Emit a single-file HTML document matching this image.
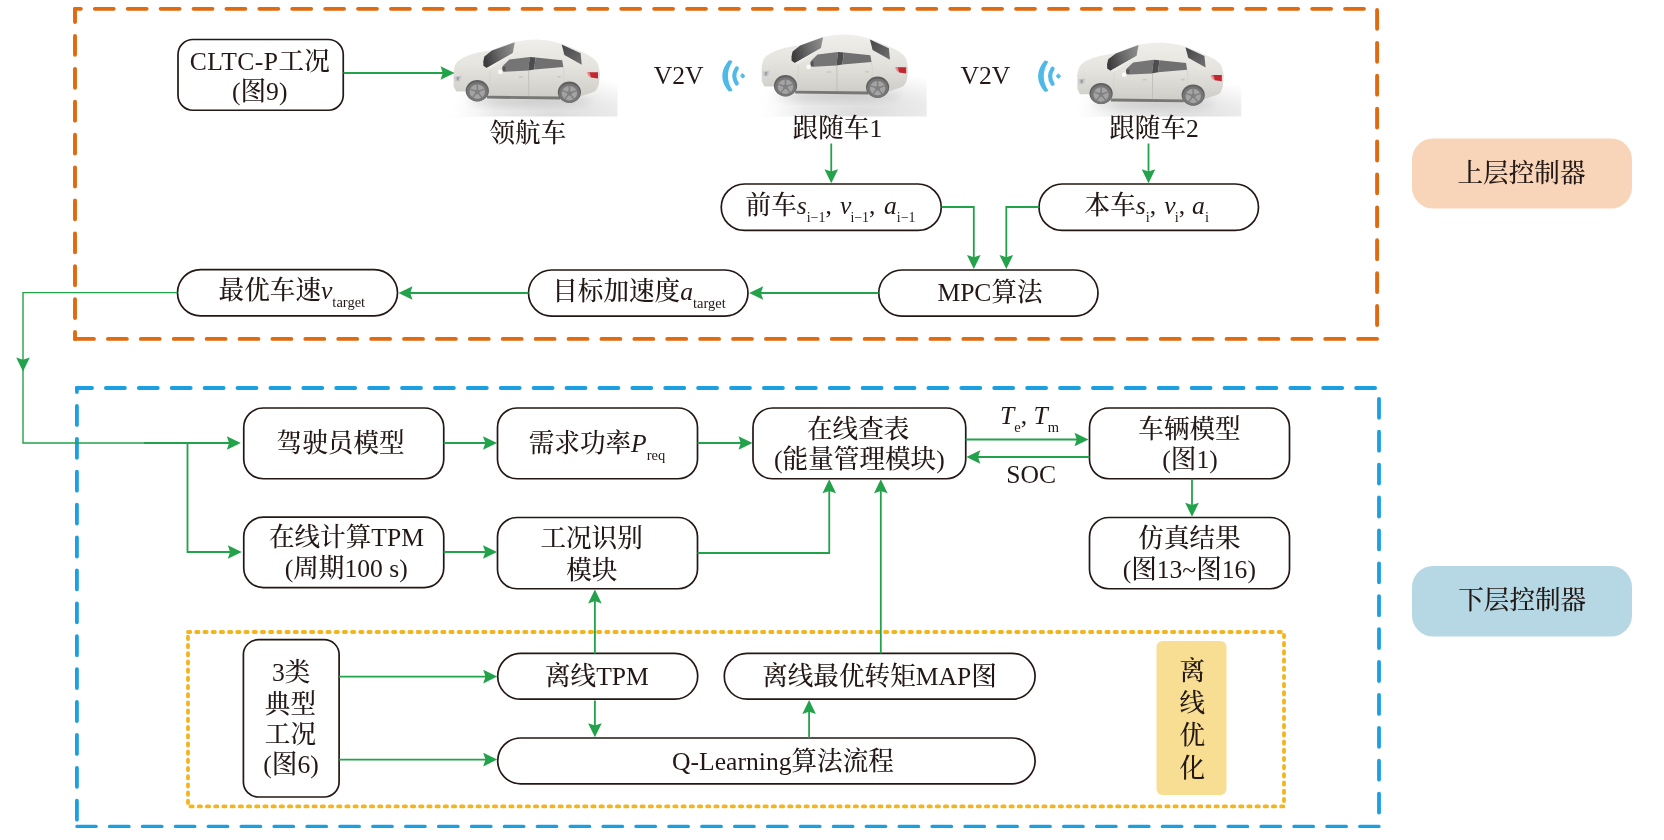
<!DOCTYPE html>
<html lang="zh"><head><meta charset="utf-8"><title>分层控制器结构</title>
<style>
html,body{margin:0;padding:0;background:#fff;}
body{width:1664px;height:840px;overflow:hidden;}
svg{display:block;will-change:transform;}
text{font-family:"Liberation Serif","Noto Serif CJK SC",serif;fill:#231815;font-size:25.6px;font-weight:500;}
.it{font-style:italic;}
.sub{font-size:14.5px;}
.bx{fill:#fff;stroke:#231815;stroke-width:1.7;}
.ln{fill:none;stroke:#22a24a;stroke-width:1.8;stroke-linejoin:miter;}
.ah{fill:#22a24a;stroke:none;}
</style></head><body>
<svg width="1664" height="840" viewBox="0 0 1664 840">
<defs>
<filter id="soft" x="-10%" y="-10%" width="120%" height="120%"><feGaussianBlur stdDeviation="0.7"/></filter>
<filter id="soft2" x="-30%" y="-20%" width="160%" height="140%"><feGaussianBlur stdDeviation="0.7"/></filter>
<filter id="shb" x="-30%" y="-80%" width="160%" height="260%"><feGaussianBlur stdDeviation="5"/></filter>
<linearGradient id="bodyg" x1="0" y1="0" x2="0" y2="1"><stop offset="0" stop-color="#f0eeea"/><stop offset="0.45" stop-color="#e6e4df"/><stop offset="1" stop-color="#cfcdc8"/></linearGradient>
<radialGradient id="gsh" cx="0.62" cy="0.78" r="0.62" gradientTransform="translate(0 0.42) scale(1 0.58)"><stop offset="0" stop-color="#dcdcdc"/><stop offset="0.55" stop-color="#ececec"/><stop offset="1" stop-color="#ffffff"/></radialGradient>
<linearGradient id="lfade" x1="0" y1="0" x2="1" y2="0"><stop offset="0" stop-color="#fff" stop-opacity="1"/><stop offset="0.3" stop-color="#fff" stop-opacity="1"/><stop offset="1" stop-color="#fff" stop-opacity="0"/></linearGradient>
<linearGradient id="wsg" x1="0" y1="0.5" x2="1" y2="0.3"><stop offset="0" stop-color="#3a3a3b"/><stop offset="0.5" stop-color="#6a6a6b"/><stop offset="1" stop-color="#8d8d8e"/></linearGradient>
<linearGradient id="rwg" x1="0" y1="0" x2="1" y2="1"><stop offset="0" stop-color="#454546"/><stop offset="1" stop-color="#717172"/></linearGradient>
<g id="car">
<rect x="430" y="20" width="200" height="110" fill="url(#gsh)"/>
<rect x="430" y="20" width="66" height="110" fill="url(#lfade)"/>
<g filter="url(#shb)">
<ellipse cx="530" cy="101" rx="62" ry="3.2" fill="#9a9a9a" opacity="0.55"/>
</g>
<g filter="url(#soft)">
<path d="M456.2 91.5 L453.6 86.3 L453.4 73.3 Q454 65 457.5 61.4 Q462 57.5 468.1 55.4 Q476 52.8 483.3 51.6 L492 50.4 Q503 45 514.6 41.9 Q526 39.6 537.4 39.6 Q549 40 559 43 Q571 46.5 580.6 51.6 Q587 54 591.4 57 Q596 60 597.9 63.5 L600 73.3 L598.9 84.1 Q597.5 89.5 594.4 91.7 L581 96.2 L557.9 97.2 L489.8 96.2 L464.9 91.5 Z" fill="url(#bodyg)"/>
<path d="M487 95.8 L560 96.6 L560 99.4 L487 98.6 Z" fill="#777775"/>
<path d="M483.3 61.4 L484.4 56.5 L491.9 50.6 L514.8 42.3 L512.7 53.3 L486.7 67.9 L483.4 65.7 Z" fill="url(#wsg)"/>
<path d="M486.7 67.9 L512.7 53.3 L514 55 L489.5 69 Z" fill="#ecebe7"/>
<path d="M502.7 66 L509.4 59.6 L529.8 57 L528.2 70.6 L504.9 71.7 Z" fill="#747475"/>
<path d="M529.8 57 L535.7 57.5 L534.1 69.5 L528.2 70.6 Z" fill="#4d4d4f"/>
<path d="M535.7 57.5 L562.2 60.3 L563.3 66.9 L534.1 69.5 Z" fill="#707071"/>
<path d="M561.7 44.4 L580.6 53.3 L581.8 64.8 L564.4 54.9 Z" fill="url(#rwg)"/>
<path d="M528.7 70.6 L528.7 96" stroke="#bfbdb8" stroke-width="0.9" fill="none"/>
<path d="M490.2 70.5 L489.6 95.5" stroke="#d2d0cb" stroke-width="0.8" fill="none"/>
<path d="M563.3 67 Q566 80 560 93" stroke="#d2d0cb" stroke-width="0.8" fill="none"/>
<rect x="518.5" y="76.2" width="4.6" height="1.6" rx="0.8" fill="#c9c7c2"/>
<rect x="557" y="76" width="4" height="1.6" rx="0.8" fill="#c9c7c2"/>
<path d="M502.2 66.8 L505.6 66.4 L505.4 71.4 L502.4 71.4 Z" fill="#555557"/>
<rect x="498.3" y="69.8" width="4.2" height="4.2" rx="1" fill="#fafaf8"/>
<path d="M454.2 76.4 L461.8 75.6 L460 81.2 L455 81.6 Z" fill="#c9cacd"/>
<path d="M456.5 77 L459.5 76.8 L458.6 80.4 L456.8 80.4 Z" fill="#9fa0a4"/>
<path d="M588 72.2 L598 72.3 L598 78.4 L590.8 77.4 Z" fill="#c2262e"/>
<path d="M586.6 72.6 L589.6 72.4 L591 77 L589 76.6 Z" fill="#e58a8e"/>
<ellipse cx="477.3" cy="90.7" rx="11.6" ry="10.6" fill="#5f5f60"/>
<ellipse cx="477.3" cy="91.7" rx="10.6" ry="9.7" fill="#767677"/>
<ellipse cx="477.3" cy="91.7" rx="7.7" ry="7.2" fill="#a3a3a4"/>
<ellipse cx="477.3" cy="91.7" rx="2.3" ry="2.2" fill="#7b7b7d"/>
<path d="M477.3 91.7 l0 -7.4 M477.3 91.7 l7.2 -2.6 M477.3 91.7 l-7.2 -2.6 M477.3 91.7 l4.6 5.8 M477.3 91.7 l-4.6 5.8" stroke="#808082" stroke-width="1.5" fill="none"/>
<ellipse cx="569.4" cy="92.2" rx="11.6" ry="10.6" fill="#5f5f60"/>
<ellipse cx="569.4" cy="93.2" rx="10.6" ry="9.7" fill="#767677"/>
<ellipse cx="569.4" cy="93.2" rx="7.7" ry="7.2" fill="#a3a3a4"/>
<ellipse cx="569.4" cy="93.2" rx="2.3" ry="2.2" fill="#7b7b7d"/>
<path d="M569.4 93.2 l0 -7.4 M569.4 93.2 l7.2 -2.6 M569.4 93.2 l-7.2 -2.6 M569.4 93.2 l4.6 5.8 M569.4 93.2 l-4.6 5.8" stroke="#808082" stroke-width="1.5" fill="none"/>
</g></g>
<clipPath id="cc1"><rect x="438" y="30" width="179.5" height="86.6"/></clipPath>
<clipPath id="cc2"><rect x="745" y="25" width="181.7" height="91.5"/></clipPath>
<clipPath id="cc3"><rect x="1062" y="30" width="179.3" height="86.6"/></clipPath>
</defs>
<line x1="75" y1="8.85" x2="1377.1" y2="8.85" stroke="#df6a10" stroke-width="3.9" stroke-linecap="round" stroke-dasharray="18.9 14.0" stroke-dashoffset="-19.85"/>
<line x1="75" y1="338.9" x2="1377.1" y2="338.9" stroke="#df6a10" stroke-width="3.9" stroke-linecap="round" stroke-dasharray="18.9 14.0" stroke-dashoffset="-0.05"/>
<line x1="75" y1="8.85" x2="75" y2="338.9" stroke="#df6a10" stroke-width="3.9" stroke-linecap="round" stroke-dasharray="18.9 14.0" stroke-dashoffset="-27.1"/>
<line x1="1377.1" y1="8.85" x2="1377.1" y2="338.9" stroke="#df6a10" stroke-width="3.9" stroke-linecap="round" stroke-dasharray="18.9 14.0" stroke-dashoffset="-1.1"/>
<line x1="76.9" y1="388" x2="1379" y2="388" stroke="#1b9fe0" stroke-width="3.8" stroke-linecap="round" stroke-dasharray="19.0 13.9" stroke-dashoffset="-29.0"/>
<line x1="76.9" y1="826.4" x2="1379" y2="826.4" stroke="#1b9fe0" stroke-width="3.3" stroke-linecap="round" stroke-dasharray="19.5 13.4" stroke-dashoffset="-32.65"/>
<line x1="76.9" y1="388" x2="76.9" y2="824" stroke="#1b9fe0" stroke-width="3.8" stroke-linecap="round" stroke-dasharray="19.0 13.9" stroke-dashoffset="-17.9"/>
<line x1="1379" y1="388" x2="1379" y2="826.4" stroke="#1b9fe0" stroke-width="3.8" stroke-linecap="round" stroke-dasharray="19.0 13.9" stroke-dashoffset="-10.8"/>
<rect x="188" y="632" width="1096" height="174.4" fill="none" stroke="#f2b41f" stroke-width="3.8" stroke-linecap="round" stroke-dasharray="2.3 5.9"/>
<rect x="1412" y="138.5" width="220" height="70" rx="21" fill="#f8d5b9"/>
<rect x="1412" y="566" width="220" height="70.5" rx="21" fill="#b6d7e4"/>
<rect x="1156.5" y="641" width="70" height="154" rx="6" fill="#f8de93"/>
<g clip-path="url(#cc1)"><use href="#car"/></g>
<g clip-path="url(#cc2)"><use href="#car" transform="translate(308.2,-5)"/></g>
<g clip-path="url(#cc3)"><use href="#car" transform="translate(623.8,2.8)"/></g>
<g fill="none" stroke="#4fb9e7" stroke-linecap="round" filter="url(#soft2)">
<path d="M742.7 73.60000000000001 l2.1 2.3 l-2.1 2.3 l-2.1 -2.3 Z" fill="#4fb9e7" stroke-width="0.8" stroke-linejoin="round"/>
<path d="M736.8000000000001 68.30000000000001 Q731.8000000000001 75.9 736.8000000000001 83.5" stroke-width="4.1"/>
<path d="M729.3000000000001 61.00000000000001 Q716.9000000000001 75.9 729.3000000000001 90.80000000000001 L731.5 90.2 Q722.7 75.9 731.5 61.60000000000001 Z" fill="#4fb9e7" stroke-width="1.6" stroke-linejoin="round"/>
</g>
<g fill="none" stroke="#4fb9e7" stroke-linecap="round" filter="url(#soft2)">
<path d="M1058.5 73.9 l2.1 2.3 l-2.1 2.3 l-2.1 -2.3 Z" fill="#4fb9e7" stroke-width="0.8" stroke-linejoin="round"/>
<path d="M1052.6 68.60000000000001 Q1047.6 76.2 1052.6 83.8" stroke-width="4.1"/>
<path d="M1045.1 61.300000000000004 Q1032.7 76.2 1045.1 91.10000000000001 L1047.3 90.5 Q1038.5 76.2 1047.3 61.900000000000006 Z" fill="#4fb9e7" stroke-width="1.6" stroke-linejoin="round"/>
</g>
<rect class="bx" x="178" y="39.5" width="165.25" height="70.75" rx="15"/>
<rect class="bx" x="721.25" y="184" width="220.0" height="46.4" rx="23.2"/>
<rect class="bx" x="1039" y="184" width="219.5" height="46.4" rx="23.2"/>
<rect class="bx" x="878.75" y="270" width="219.25" height="46.2" rx="23.1"/>
<rect class="bx" x="528.5" y="270" width="219.5" height="46.2" rx="23.1"/>
<rect class="bx" x="177.5" y="269.7" width="220.0" height="46.2" rx="23.1"/>
<rect class="bx" x="243.75" y="408" width="200.0" height="70.75" rx="19.5"/>
<rect class="bx" x="497.5" y="408" width="200.0" height="70.75" rx="19.5"/>
<rect class="bx" x="753" y="408" width="212.75" height="70.75" rx="19.5"/>
<rect class="bx" x="1089.5" y="408" width="200.0" height="70.75" rx="19.5"/>
<rect class="bx" x="243.75" y="517.2" width="200.0" height="70.4" rx="19.5"/>
<rect class="bx" x="497.5" y="517.5" width="200.0" height="71.25" rx="19.5"/>
<rect class="bx" x="1089.5" y="517.5" width="200.0" height="71.25" rx="19.5"/>
<rect class="bx" x="243.4" y="639.6" width="95.7" height="157.4" rx="15"/>
<rect class="bx" x="497.7" y="653.4" width="200.0" height="45.8" rx="22.9"/>
<rect class="bx" x="724.3" y="653.4" width="310.8" height="45.8" rx="22.9"/>
<rect class="bx" x="497.7" y="738" width="537.4" height="45.8" rx="22.9"/>
<polyline class="ln" points="343.5,73 443.3,73"/>
<polygon class="ah" points="454.5,73 440.5,66.2 442.8,73 440.5,79.8"/>
<polyline class="ln" points="831.25,143.5 831.25,172.10000000000002"/>
<polygon class="ah" points="831.25,183.3 824.45,169.3 831.25,171.6 838.05,169.3"/>
<polyline class="ln" points="1148.5,143.5 1148.5,172.10000000000002"/>
<polygon class="ah" points="1148.5,183.3 1141.7,169.3 1148.5,171.6 1155.3,169.3"/>
<polyline class="ln" points="941.5,207 973.8,207 973.8,257.8"/>
<polygon class="ah" points="973.8,269 967.0,255.0 973.8,257.3 980.6,255.0"/>
<polyline class="ln" points="1039,207 1006.3,207 1006.3,257.8"/>
<polygon class="ah" points="1006.3,269 999.5,255.0 1006.3,257.3 1013.1,255.0"/>
<polyline class="ln" points="878.75,293 760.4000000000001,293"/>
<polygon class="ah" points="749.2,293 763.2,286.2 760.9,293 763.2,299.8"/>
<polyline class="ln" points="528.5,293 409.7,293"/>
<polygon class="ah" points="398.5,293 412.5,286.2 410.2,293 412.5,299.8"/>
<polyline class="ln" style="stroke-width:1.4" points="177.5,292.6 23,292.6 23,443.0 146,443.0"/>
<polyline class="ln" points="144,443.0 229.60000000000002,443.0"/>
<polygon class="ah" points="240.8,443.0 226.8,436.2 229.1,443.0 226.8,449.8"/>
<polygon class="ah" points="23,371.5 16.2,357.5 23,359.8 29.8,357.5"/>
<polyline class="ln" points="187.5,443.0 187.5,552 230.60000000000002,552"/>
<polygon class="ah" points="241.8,552 227.8,545.2 230.1,552 227.8,558.8"/>
<polyline class="ln" points="443.75,443.0 485.8,443.0"/>
<polygon class="ah" points="497,443.0 483.0,436.2 485.3,443.0 483.0,449.8"/>
<polyline class="ln" points="697.5,443.0 741.3,443.0"/>
<polygon class="ah" points="752.5,443.0 738.5,436.2 740.8,443.0 738.5,449.8"/>
<polyline class="ln" points="443.75,552 485.8,552"/>
<polygon class="ah" points="497,552 483.0,545.2 485.3,552 483.0,558.8"/>
<polyline class="ln" points="697.5,553 829.25,553 829.25,490.4"/>
<polygon class="ah" points="829.25,479.2 822.45,493.2 829.25,490.9 836.05,493.2"/>
<polyline class="ln" points="880.8,653.4 880.8,490.4"/>
<polygon class="ah" points="880.8,479.2 874.0,493.2 880.8,490.9 887.6,493.2"/>
<polyline class="ln" points="965.75,439.5 1077.3,439.5"/>
<polygon class="ah" points="1088.5,439.5 1074.5,432.7 1076.8,439.5 1074.5,446.3"/>
<polyline class="ln" points="1089.5,457 977.5,457"/>
<polygon class="ah" points="966.3,457 980.3,450.2 978.0,457 980.3,463.8"/>
<polyline class="ln" points="1192,478.75 1192,505.59999999999997"/>
<polygon class="ah" points="1192,516.8 1185.2,502.8 1192,505.1 1198.8,502.8"/>
<polyline class="ln" points="594.9,653.4 594.9,600.6"/>
<polygon class="ah" points="594.9,589.4 588.1,603.4 594.9,601.1 601.7,603.4"/>
<polyline class="ln" points="594.9,700.5 594.9,726.0"/>
<polygon class="ah" points="594.9,737.2 588.1,723.2 594.9,725.5 601.7,723.2"/>
<polyline class="ln" points="809.1,738 809.1,711.2"/>
<polygon class="ah" points="809.1,700 802.3,714.0 809.1,711.7 815.9,714.0"/>
<polyline class="ln" points="339.1,676.6 486.0,676.6"/>
<polygon class="ah" points="497.2,676.6 483.2,669.8 485.5,676.6 483.2,683.4"/>
<polyline class="ln" points="339.1,759.6 486.0,759.6"/>
<polygon class="ah" points="497.2,759.6 483.2,752.8 485.5,759.6 483.2,766.4"/>
<text x="259.8" y="69.5" text-anchor="middle"><tspan letter-spacing="0.5">CLTC-P</tspan>工况</text>
<text x="259.7" y="100" text-anchor="middle">(图9)</text>
<text x="678.7" y="84" text-anchor="middle">V2V</text>
<text x="985.3" y="84" text-anchor="middle">V2V</text>
<text x="527.9" y="142.2" text-anchor="middle">领航车</text>
<text x="837.4" y="137.2" text-anchor="middle">跟随车1</text>
<text x="1154" y="137.2" text-anchor="middle">跟随车2</text>
<text x="745.6" y="214" text-anchor="start">前车<tspan class="it">s</tspan><tspan class="sub" baseline-shift="-7.6" style="font-size:13.9px">i−1</tspan>, <tspan class="it" dx="1.8">v</tspan><tspan class="sub" baseline-shift="-7.6" dx="-1.0" style="font-size:13.9px">i−1</tspan>, <tspan class="it" dx="2.2">a</tspan><tspan class="sub" baseline-shift="-7.6" style="font-size:13.9px">i−1</tspan></text>
<text x="1084.6" y="214" text-anchor="start">本车<tspan class="it">s</tspan><tspan class="sub" baseline-shift="-7.6">i</tspan>, <tspan class="it" dx="1.7">v</tspan><tspan class="sub" baseline-shift="-7.6" dx="-1.0">i</tspan>, <tspan class="it" dx="0.6">a</tspan><tspan class="sub" baseline-shift="-7.6">i</tspan></text>
<text x="990" y="301" text-anchor="middle">MPC算法</text>
<text x="552.2" y="300" text-anchor="start">目标加速度<tspan class="it">a</tspan><tspan class="sub" baseline-shift="-7.6">target</tspan></text>
<text x="218.6" y="299.4" text-anchor="start">最优车速<tspan class="it">v</tspan><tspan class="sub" baseline-shift="-7.6">target</tspan></text>
<text x="1521.5" y="182" text-anchor="middle">上层控制器</text>
<text x="1522.2" y="609" text-anchor="middle">下层控制器</text>
<text x="340.6" y="451.8" text-anchor="middle">驾驶员模型</text>
<text x="528.7" y="451.7" text-anchor="start">需求功率<tspan class="it">P</tspan><tspan class="sub" baseline-shift="-7.6">req</tspan></text>
<text x="858.2" y="437.5" text-anchor="middle">在线查表</text>
<text x="859.4" y="467.8" text-anchor="middle">(能量管理模块)</text>
<text x="1000" y="423.8" text-anchor="start"><tspan class="it">T</tspan><tspan class="sub" baseline-shift="-7.9">e</tspan>, <tspan class="it">T</tspan><tspan class="sub" baseline-shift="-7.9">m</tspan></text>
<text x="1031.2" y="482.5" text-anchor="middle">SOC</text>
<text x="1189.5" y="437.6" text-anchor="middle">车辆模型</text>
<text x="1190" y="468.2" text-anchor="middle">(图1)</text>
<text x="346.4" y="546" text-anchor="middle">在线计算TPM</text>
<text x="346.2" y="577" text-anchor="middle">(周期100 s)</text>
<text x="591.6" y="547.4" text-anchor="middle">工况识别</text>
<text x="591.8" y="579.4" text-anchor="middle">模块</text>
<text x="1189.5" y="547" text-anchor="middle">仿真结果</text>
<text x="1189.3" y="577.6" text-anchor="middle">(图13~图16)</text>
<text x="291.2" y="681.4" text-anchor="middle">3类</text>
<text x="290.4" y="712.6" text-anchor="middle">典型</text>
<text x="290.4" y="742.9" text-anchor="middle">工况</text>
<text x="291" y="772.9" text-anchor="middle">(图6)</text>
<text x="596.9" y="685.2" text-anchor="middle">离线TPM</text>
<text x="879.5" y="685.2" text-anchor="middle">离线最优转矩MAP图</text>
<text x="783" y="770" text-anchor="middle">Q-Learning算法流程</text>
<text x="1192.2" y="679.6" text-anchor="middle">离</text>
<text x="1192.2" y="711.6" text-anchor="middle">线</text>
<text x="1192.2" y="744.4" text-anchor="middle">优</text>
<text x="1192.2" y="776.6" text-anchor="middle">化</text>
</svg></body></html>
